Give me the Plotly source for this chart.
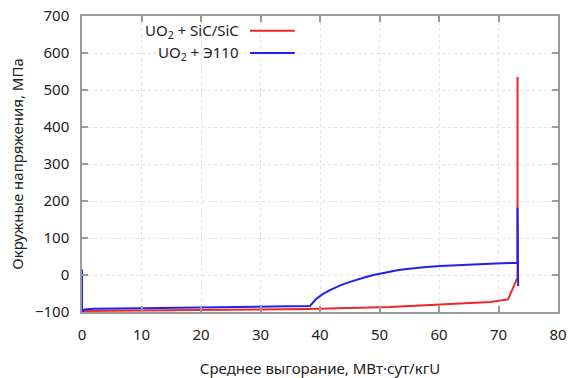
import plotly.graph_objects as go

# Hoop stress in cladding vs. average burnup
burnup_sic = [0, 5, 10, 20, 30, 38, 43.4, 51.8, 60.2, 68.6, 71.6, 73.2, 73.2]
stress_sic = [-97, -96, -95, -94, -93, -92, -90, -86.5, -80, -73, -66, -7, 535]

burnup_e110 = [0, 0, 0.4, 2, 10, 20, 30, 38.3, 38.9, 39.4, 40.0, 40.6, 41.5,
               42.5, 43.4, 44.8, 46.2, 47.6, 49.0, 50.4, 51.8, 53.2, 54.6,
               56.0, 57.4, 60.2, 63.0, 65.8, 69.5, 73.2, 73.2, 73.3]
stress_e110 = [15, -99, -93, -91, -90, -88, -86, -84, -73, -64, -57, -50, -42,
               -34, -28, -20, -12.5, -6, 0, 5, 10, 13.3, 16.2,
               18.8, 21, 24, 26.5, 29, 31, 33, 182, -30]

series_names = ["UO<sub>2</sub> + SiC/SiC", "UO<sub>2</sub> + Э110"]
series_colors = ["#f02525", "#2020f5"]

x_ticks = [0, 10, 20, 30, 40, 50, 60, 70, 80]
y_ticks = [-100, 0, 100, 200, 300, 400, 500, 600, 700]

FONT = "Noto Sans"
FONT_SIZE = 15

fig = go.Figure()
fig.add_trace(go.Scatter(x=burnup_sic, y=stress_sic, mode="lines",
                         line=dict(color=series_colors[0], width=2),
                         showlegend=False))
fig.add_trace(go.Scatter(x=burnup_e110, y=stress_e110, mode="lines",
                         line=dict(color=series_colors[1], width=2),
                         showlegend=False))

# Legend: right-aligned labels followed by line samples
legend_rows = [0.95, 0.875]
for name, color, yr in zip(series_names, series_colors, legend_rows):
    fig.add_annotation(xref="paper", yref="paper", x=0.333, y=yr,
                       xanchor="right", yanchor="middle", showarrow=False,
                       text=name, font=dict(family=FONT, size=FONT_SIZE, color="#222"))
    fig.add_shape(type="line", xref="paper", yref="paper",
                  x0=0.353, x1=0.447, y0=yr, y1=yr,
                  line=dict(color=color, width=2))

axis_common = dict(
    showline=True, linecolor="#9a9a9a", linewidth=1.5, mirror="ticks",
    ticks="inside", ticklen=6, tickcolor="#9a9a9a", tickwidth=1.5,
    showgrid=True, gridcolor="#e2e2e2", griddash="dot", gridwidth=1,
    zeroline=False, tickfont=dict(family=FONT, size=FONT_SIZE, color="#222"),
    ticklabelstandoff=8, automargin=False,
)

fig.update_layout(
    width=574, height=378,
    margin=dict(l=82, r=16, t=16, b=66),
    paper_bgcolor="white", plot_bgcolor="white",
    xaxis=dict(range=[0, 80], tickvals=x_ticks,
               title=dict(text="Среднее выгорание, МВт·сут/кгU",
                          font=dict(family=FONT, size=FONT_SIZE, color="#222"),
                          standoff=22),
               **axis_common),
    yaxis=dict(range=[-100, 700], tickvals=y_ticks,
               title=dict(text="Окружные напряжения, МПа",
                          font=dict(family=FONT, size=FONT_SIZE, color="#222"),
                          standoff=8),
               **axis_common),
)

fig.write_html("out.html")
